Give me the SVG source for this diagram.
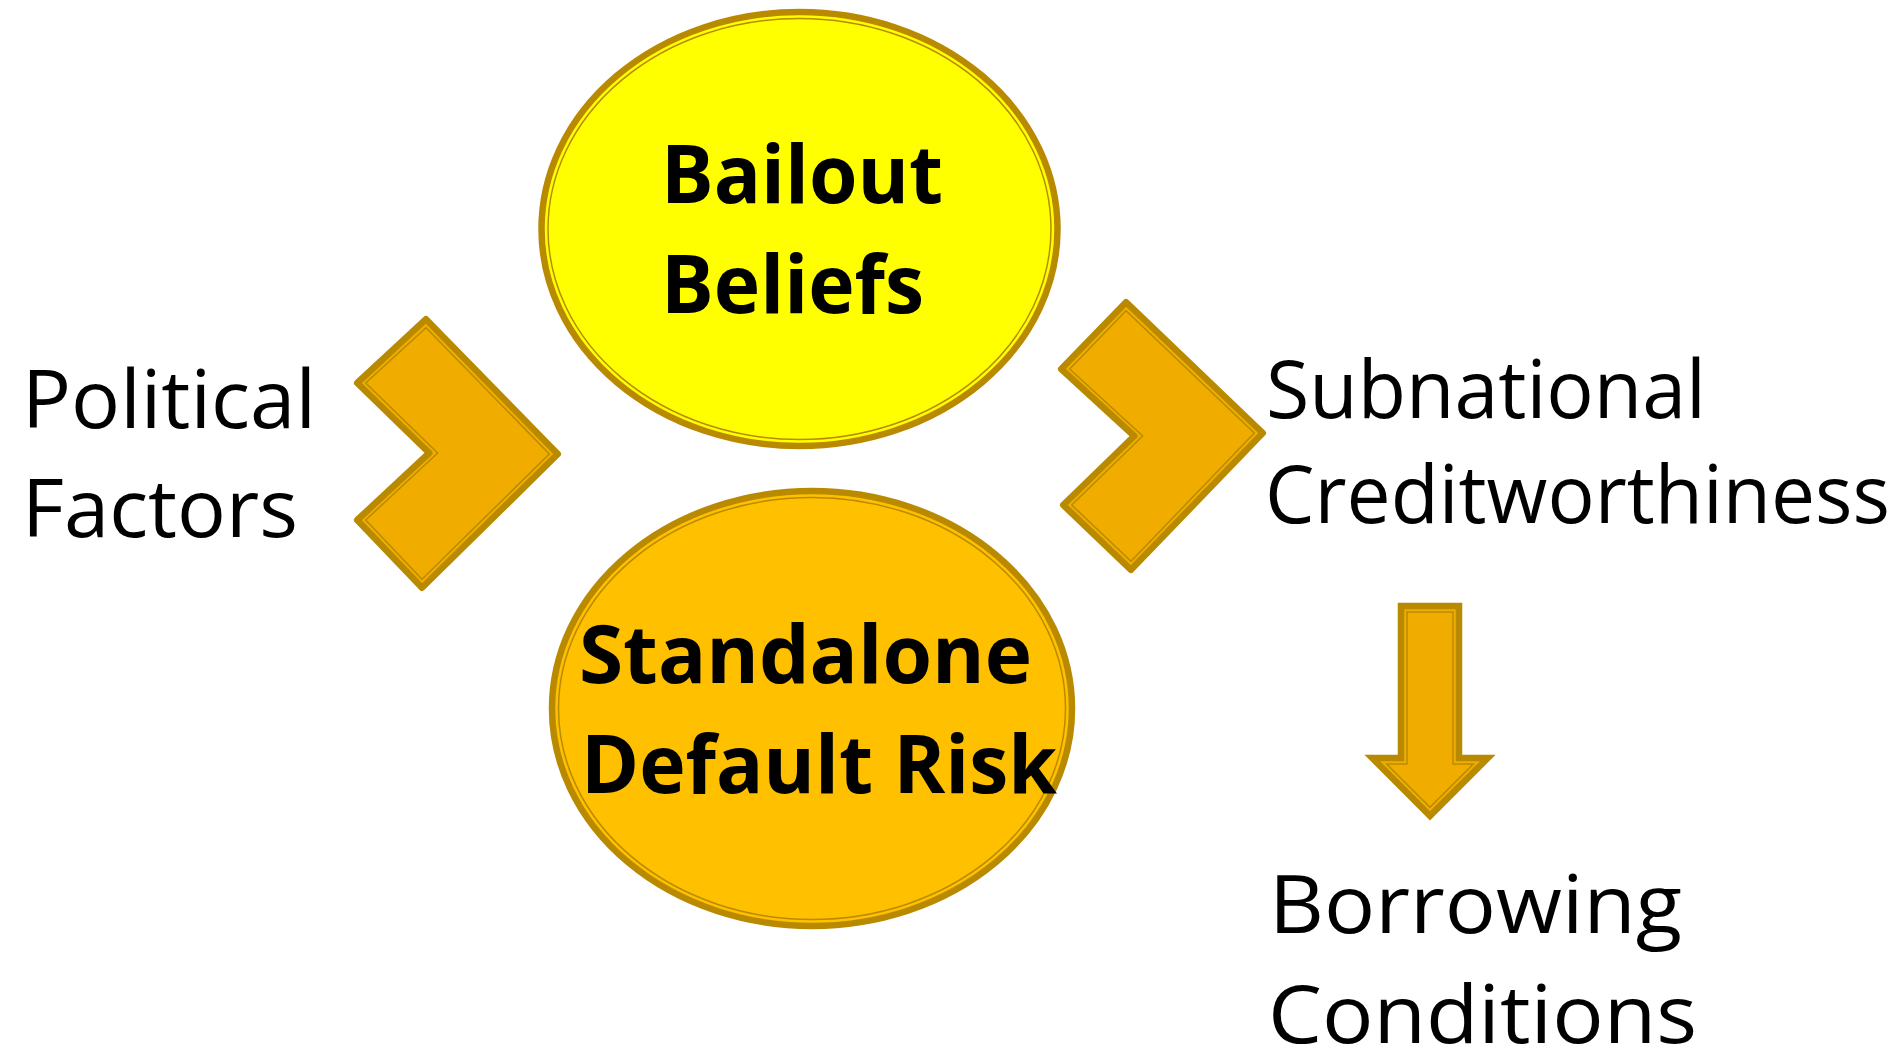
<svg xmlns="http://www.w3.org/2000/svg" width="1899" height="1052" viewBox="0 0 1899 1052">
  <style>
    .edge { stroke: #B98A00; stroke-width: 6.5; stroke-linejoin: round; }
    .inner { fill: none; stroke: #B98A00; stroke-width: 1.5; stroke-linejoin: round; }
    .shape { fill: #F0AD00; }
    .label { font-family: "Open Sans", "Noto Sans", "Liberation Sans", sans-serif; font-size: 81px; fill: #000000; }
    .title { font-family: "Open Sans", "Noto Sans", "Liberation Sans", sans-serif; font-size: 81px; font-weight: bold; fill: #000000; }
  </style>
  <rect width="1899" height="1052" fill="#FFFFFF"/>

  <!-- arrows between the nodes -->
  <g id="connectors">
    <g id="chevron-left">
      <polygon class="shape edge" points="426,319.2 557.8,454 422,587.8 357.2,520 429.2,453 357.2,383"/>
      <polygon class="inner" points="426,327.7 549.3,454 422,579.3 365.7,520 437.7,453 365.7,383"/>
    </g>
    <g id="chevron-right">
      <polygon class="shape edge" points="1126,302.2 1262.8,433 1131,569.8 1063.2,505 1134.2,436 1061.2,369"/>
      <polygon class="inner" points="1126,310.7 1254.3,433 1131,561.3 1071.7,505 1142.7,436 1069.7,369"/>
    </g>
    <g id="arrow-down">
      <polygon class="shape edge" style="stroke-linejoin: miter" points="1401,606 1459,606 1459,758 1487.8,758 1430,815.8 1372.2,758 1401,758"/>
      <polygon class="inner" style="stroke-linejoin: miter" points="1407,612 1453,612 1453,764 1473.3,764 1430,807.3 1386.7,764 1407,764"/>
    </g>
  </g>

  <g id="political-factors">
    <text class="label" x="22" y="428" textLength="294" lengthAdjust="spacingAndGlyphs">Political</text>
    <text class="label" x="22" y="537" textLength="276" lengthAdjust="spacingAndGlyphs">Factors</text>
  </g>

  <g id="bailout-beliefs">
    <ellipse cx="799.5" cy="229" rx="258" ry="217" fill="#FFFF00" class="edge"/>
    <ellipse cx="799.5" cy="229" rx="251.5" ry="210.5" class="inner"/>
    <text class="title" x="661" y="203" textLength="282" lengthAdjust="spacingAndGlyphs">Bailout</text>
    <text class="title" x="661" y="313" textLength="263" lengthAdjust="spacingAndGlyphs">Beliefs</text>
  </g>

  <g id="standalone-default-risk">
    <ellipse cx="812" cy="708.5" rx="260" ry="217.5" fill="#FFC000" class="edge"/>
    <ellipse cx="812" cy="708.5" rx="253.5" ry="211" class="inner"/>
    <text class="title" x="579" y="683" textLength="453" lengthAdjust="spacingAndGlyphs">Standalone</text>
    <text class="title" x="581" y="793" textLength="476" lengthAdjust="spacingAndGlyphs">Default Risk</text>
  </g>

  <g id="subnational-creditworthiness">
    <text class="label" x="1266" y="418" textLength="440" lengthAdjust="spacingAndGlyphs">Subnational</text>
    <text class="label" x="1265" y="523" textLength="625" lengthAdjust="spacingAndGlyphs">Creditworthiness</text>
  </g>

  <g id="borrowing-conditions">
    <text class="label" x="1269" y="933" textLength="413" lengthAdjust="spacingAndGlyphs">Borrowing</text>
    <text class="label" x="1268" y="1043" textLength="429" lengthAdjust="spacingAndGlyphs">Conditions</text>
  </g>
</svg>
